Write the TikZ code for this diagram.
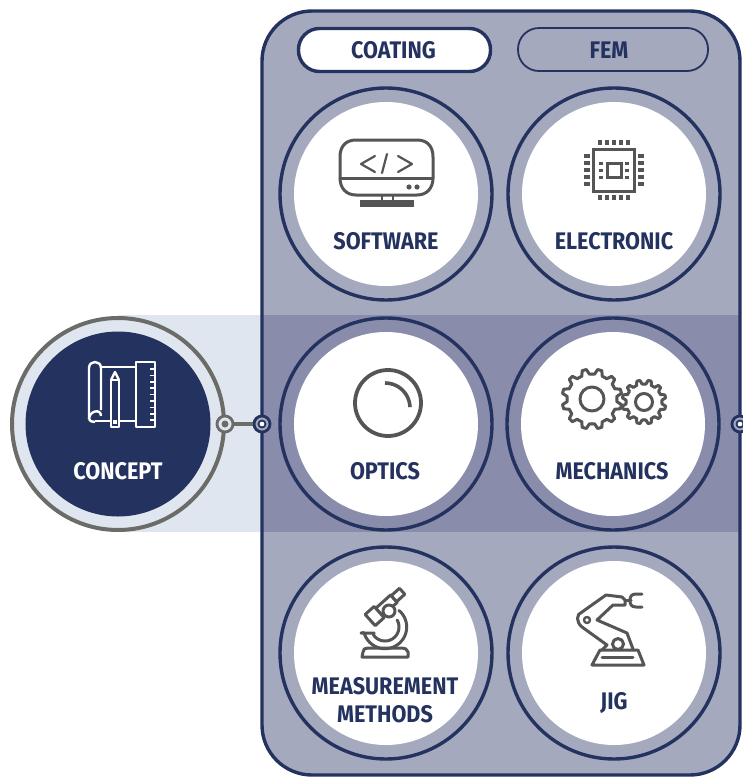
\documentclass[tikz,border=0pt]{standalone}
\usepackage{fontspec}
\setmainfont{Fira Sans}[FakeStretch=0.9]
\definecolor{navy}{HTML}{24325F}
\definecolor{slate}{HTML}{A4A9BD}
\definecolor{bandd}{HTML}{8A8CAB}
\definecolor{pale}{HTML}{E0E6F0}
\definecolor{ash}{HTML}{6B6B68}
\definecolor{icon}{HTML}{555555}
\tikzset{
  x=1pt,y=-1pt,
  ringc/.style={circle,draw=navy,line width=3.4pt,fill=slate,minimum size=212pt,inner sep=0pt,outer sep=0pt},
  whitec/.style={circle,fill=white,minimum size=184pt,inner sep=0pt,outer sep=0pt},
  lbl/.style={text=navy,font=\fontsize{24}{28}\selectfont\bfseries,align=center,inner sep=0pt},
  ico/.style={draw=icon,line width=3pt,line join=round,line cap=round},
  wico/.style={draw=white,line width=2.4pt,line join=round},
}
\newcommand{\gearshape}[6]{% cx cy rout rin teeth hole
  \begin{scope}[shift={(#1,#2)}]
    \pgfmathsetmacro{\da}{360/#5}
    \foreach \i in {1,...,#5}{
      \pgfmathsetmacro{\aa}{\i*\da}
      \pgfmathsetmacro{\ab}{\aa+0.2*\da}
      \pgfmathsetmacro{\ac}{\aa+0.36*\da}
      \pgfmathsetmacro{\ad}{\aa+0.64*\da}
      \pgfmathsetmacro{\ae}{\aa+0.8*\da}
      \pgfmathsetmacro{\af}{\aa+\da}
      \draw[ico] (\aa:#4) -- (\ab:#4) -- (\ac:#3) -- (\ad:#3) -- (\ae:#4) -- (\af:#4);
    }
    \draw[ico] (0,0) circle (#6);
  \end{scope}}
\begin{document}
\begin{tikzpicture}
\useasboundingbox (0,0) rectangle (743,777);
\clip (0,0) rectangle (743,777);
% bands and panel
\fill[pale] (118,315) rectangle (262,532);
\node[rectangle,rounded corners=50pt,fill=slate,minimum width=478pt,minimum height=764pt,inner sep=0pt,outer sep=0pt] (panelfill) at (501,393) {};
\fill[bandd] (262,315) rectangle (740,532);
\node[rectangle,rounded corners=50pt,draw=navy,line width=3.4pt,minimum width=478pt,minimum height=764pt,inner sep=0pt,outer sep=0pt] (panel) at (501,393) {};
% pills
\node[rectangle,rounded corners=21pt,draw=navy,line width=3.4pt,fill=white,minimum width=192pt,minimum height=43pt,inner sep=0pt] (coatingbox) at (394.5,50) {};
\node[lbl] (coating) at (393.5,50) {COATING};
\node[rectangle,rounded corners=21pt,draw=navy,line width=1.8pt,minimum width=190pt,minimum height=43pt,inner sep=0pt] (fembox) at (613,49.5) {};
\node[lbl] (fem) at (609,50) {FEM};
% circles
\foreach \n/\cx/\cy in {software/386/194,electronic/614/194,measure/386/653,jig/614/653}{
  \node[ringc] (\n) at (\cx,\cy) {};
  \node[whitec] (\n w) at (\cx,\cy) {};
}
\foreach \n/\cx/\cy in {optics/386/424,mechanics/613/424}{
  \node[ringc,fill=bandd] (\n) at (\cx,\cy) {};
  \node[whitec] (\n w) at (\cx,\cy) {};
}
\node[circle,draw=ash,line width=4pt,fill=pale,minimum size=212pt,inner sep=0pt] (concept) at (118,424) {};
\node[circle,fill=navy,minimum size=185pt,inner sep=0pt] (conceptw) at (118,424) {};
% connector
\node[circle,draw=ash,line width=2.8pt,fill=pale,minimum size=16pt,inner sep=0pt] (portA) at (225,424) {};
\node[circle,fill=ash,minimum size=7pt,inner sep=0pt] (portAd) at (225,424) {};
\node[circle,draw=navy,line width=2.8pt,fill=slate,minimum size=16pt,inner sep=0pt] (portB) at (262,424) {};
\node[circle,draw=navy,line width=1.8pt,fill=white,minimum size=7pt,inner sep=0pt] (portBd) at (262,424) {};
\node[circle,draw=navy,line width=2.8pt,fill=slate,minimum size=16pt,inner sep=0pt] (portC) at (740,424) {};
\node[circle,draw=navy,line width=1.8pt,fill=white,minimum size=7pt,inner sep=0pt] (portCd) at (740,424) {};
\draw[ash,line width=3.2pt] (portA) -- (portB);
% labels
\node[lbl,text=white] (tconcept) at (118,471) {CONCEPT};
\node[lbl] (tsoftware) at (386,241) {SOFTWARE};
\node[lbl] (telectronic) at (614,241) {ELECTRONIC};
\node[lbl] (toptics) at (385,471) {OPTICS};
\node[lbl] (tmechanics) at (612,471) {MECHANICS};
\node[lbl] (tmeasure) at (385,700) {MEASUREMENT\\METHODS};
\node[lbl] (tjig) at (614,702.5) {JIG};
% software icon
\draw[ico] (340,178) -- (340,157) .. controls (340,146) and (346,140) .. (356,140) -- (417,140) .. controls (427,140) and (433,146) .. (433,157) -- (433,178) .. controls (433,188) and (427,195) .. (417,195) -- (356,195) .. controls (346,195) and (340,188) .. (340,178) -- cycle;
\draw[ico] (340,178) -- (433,178);
\draw[ico,line width=2.2pt] (375,156) -- (361,164) -- (375,172);
\draw[ico,line width=2.2pt] (387,154) -- (382,173);
\draw[ico,line width=2.2pt] (398,156) -- (412,164) -- (398,172);
\fill[icon] (409,187) circle (2.6) (417,187) circle (2.6);
\draw[icon,line width=2.4pt] (382,195) -- (382,200) (393,195) -- (393,200);
\fill[icon] (360,200) rectangle (414,207);
% chip icon
\draw[ico,line join=miter] (593,149) rectangle (634,191);
\draw[ico,line join=miter] (607,163) rectangle (621,177);
\foreach \k in {0,1,2,3,4}{
  \fill[icon] ({600+7*\k-2},140) rectangle ({600+7*\k+2},145);
  \fill[icon] ({600+7*\k-2},195) rectangle ({600+7*\k+2},200);
  \fill[icon] (584,{156+7*\k-2}) rectangle (590,{156+7*\k+2});
  \fill[icon] (638,{156+7*\k-2}) rectangle (644,{156+7*\k+2});
}
\foreach \k in {0,1,2}{
  \fill[icon] (599,{163+7*\k-1.5}) rectangle (603,{163+7*\k+1.5});
  \fill[icon] (625,{163+7*\k-1.5}) rectangle (629,{163+7*\k+1.5});
}
% lens icon
\draw[ico,line width=3.8pt] (388,403) circle (33);
\draw[ico,line width=3.6pt,line cap=butt] plot[domain=-90:-2,samples=20] ({385+25*cos(\x)},{408+25*sin(\x)});
% gears
\gearshape{592}{399}{30}{25}{12}{12}
\gearshape{644}{402}{22}{18}{12}{8.5}
% microscope icon
\draw[ico] (362,657) -- (363,652) .. controls (363,649) and (365,648) .. (368,648) -- (402,648) .. controls (405,648) and (407,649) .. (408,652) -- (408,657) -- cycle;
\draw[ico] plot[domain=-50:165,samples=30] ({385+21.7*cos(\x)},{627+21.7*sin(\x)}) -- (361,633) -- (374,633) -- plot[domain=145:-30,samples=30] ({385+14*cos(\x)},{627+14*sin(\x)});
\begin{scope}[shift={(388,604)},rotate=42]
  \draw[ico,fill=white] (-12,-5) rectangle (8,5);
  \draw[ico,fill=white] (-24,-7.5) rectangle (-12,7.5);
  \draw[ico,fill=white] (8,-4) rectangle (19,4);
\end{scope}
\draw[ico,fill=white] (389,611) circle (6);
% robot arm icon
\draw[ico] (592,665) -- (600,650) -- (638,650) -- (644,665) -- cycle;
\draw[ico] (602,657.5) -- (633,657.5);
\draw[ico] (602,650) -- (607,645) -- (582,627) .. controls (576,622) and (576,614) .. (582,612) -- (606,595) -- (622,597) -- (625,600) -- (625,605) -- (613,605) -- (597,620) -- (627,633) -- (633,649);
\draw[ico,fill=white] (618,644) circle (5.5);
\draw[ico,line width=2.4pt] (587,620) circle (3);
\draw[ico] (625,600.5) -- (631,600.5);
\draw[ico] (642,594) -- (636,594) .. controls (631,594) and (630,597) .. (630,600.5) .. controls (630,604) and (631,607) .. (636,607) -- (642,607);
% concept icon
\draw[wico] (135,367) -- (101,367);
\draw[wico] (95,421) -- (111,421) (119,421) -- (136,421);
\draw[wico] (89,419) -- (89,368) .. controls (89,360) and (101,360) .. (101,368) -- (101,410);
\draw[wico] (89,419) .. controls (89,411) and (101,408) .. (101,416);
\draw[wico] (89,419) .. controls (89,421) and (92,422) .. (95,422);
\draw[wico] (111,427) rectangle (119,380);
\draw[wico] (111,380) -- (115,372) -- (119,380);
\fill[white] (113,420) rectangle (117,424);
\draw[wico] (136,362) rectangle (155,427);
\foreach \k in {0,1,2,3,4,5,6,7,8}{
  \draw[white,line width=1.6pt] (155,{369+\k*6.4}) -- (150,{369+\k*6.4});
}
\end{tikzpicture}
\end{document}
